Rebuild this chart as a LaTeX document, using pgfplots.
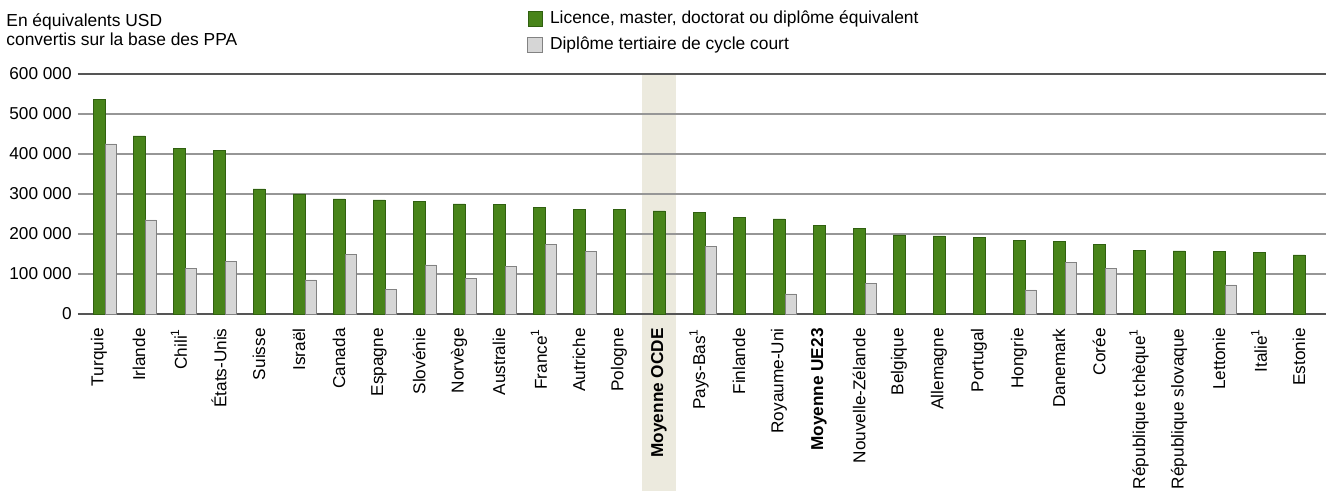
\documentclass[border=0pt]{standalone}
\usepackage{fontspec}
\setmainfont{Liberation Sans}
\usepackage{pgfplots}
\pgfplotsset{compat=1.18}

\definecolor{bargreen}{RGB}{72,132,26}
\definecolor{bargreenedge}{RGB}{48,96,16}
\definecolor{bargray}{RGB}{214,214,214}
\definecolor{bargrayedge}{RGB}{130,130,130}
\definecolor{bandcol}{RGB}{236,234,222}
\definecolor{gridcol}{RGB}{150,150,150}
\definecolor{axiscol}{RGB}{85,85,85}

\newcommand{\lbl}{\fontsize{8.6}{10}\selectfont}

\begin{document}
\begin{tikzpicture}
\begin{axis}[
  set layers,
  at={(0,0)}, anchor=south west,
  width=624pt, height=120pt, scale only axis,
  clip=false,
  ybar,
  xmin=-0.525, xmax=30.675,
  ymin=0, ymax=600000,
  ytick={0,100000,200000,300000,400000,500000,600000},
  yticklabels={0,100 000,200 000,300 000,400 000,500 000,600 000},
  scaled y ticks=false,
  xtick={0,...,30},
  xticklabels={Turquie,Irlande,Chili\textsuperscript{1},États-Unis,Suisse,Israël,Canada,Espagne,Slovénie,Norvège,Australie,France\textsuperscript{1},Autriche,Pologne,\textbf{Moyenne OCDE},Pays-Bas\textsuperscript{1},Finlande,Royaume-Uni,\textbf{Moyenne UE23},Nouvelle-Zélande,Belgique,Allemagne,Portugal,Hongrie,Danemark,Corée,République tchèque\textsuperscript{1},République slovaque,Lettonie,Italie\textsuperscript{1},Estonie},
  major tick length=0pt,
  xticklabel style={rotate=90, anchor=east, inner sep=0pt, font=\lbl},
  xticklabel shift=7pt,
  yticklabel style={anchor=east, inner sep=0pt, font=\lbl},
  yticklabel shift=3pt,
  ymajorgrids,
  grid style={color=gridcol, line width=0.75pt},
  separate axis lines,
  x axis line style={color=axiscol, line width=0.9pt},
  y axis line style={draw=none},
  legend cell align=left,
  legend style={at={(0.3598,1.265)}, anchor=north west, draw=none, fill=none,
    font=\fontsize{8.7}{10}\selectfont, inner sep=0pt, row sep=4.6pt, column sep=3.5pt,
    nodes={inner sep=0pt, text height=6.6pt, text depth=1.8pt}},
  legend image code/.code={\draw[#1] (0pt,-3.7pt) rectangle (7.4pt,3.7pt);},
]
% highlighted column for the OECD average
\addplot[sharp plot, forget plot, fill=bandcol, draw=none, on layer=axis background]
  coordinates {(13.57,-442500) (14.43,-442500) (14.43,600000) (13.57,600000)} -- cycle;

\addplot[fill=bargreen, draw=bargreenedge, line width=0.3pt, bar width=6pt, bar shift=0pt] coordinates {
(0,537000) (1,445000) (2,413000) (3,408000) (4,312500) (5,300000) (6,287500) (7,285000)
(8,282000) (9,275000) (10,274000) (11,266500) (12,261500) (13,261500) (14,257500)
(15,254000) (16,241500) (17,237500) (18,221500) (19,213000) (20,197500) (21,195000)
(22,191000) (23,183000) (24,181500) (25,174000) (26,158000) (27,157500) (28,156000)
(29,154000) (30,147500)};
\addlegendentry{Licence, master, doctorat ou diplôme équivalent}

\addplot[fill=bargray, draw=bargrayedge, line width=0.4pt, bar width=5.5pt, bar shift=5.75pt] coordinates {
(0,425000) (1,235000) (2,113000) (3,131000) (5,85000) (6,149000) (7,62000) (8,122500)
(9,89000) (10,118000) (11,174000) (12,156000) (15,168000) (17,50000) (19,77000)
(23,60000) (24,129000) (25,113000) (28,72500)};
\addlegendentry{Diplôme tertiaire de cycle court}

\node[anchor=north west, align=left, inner sep=0pt, font=\fontsize{8.7}{9.5}\selectfont]
  at (axis description cs:-0.0577,1.254) {En équivalents USD\\convertis sur la base des PPA};
\end{axis}
\pgfresetboundingbox
\path[use as bounding box] (-39pt,-88.5pt) rectangle (624pt,157pt);
\end{tikzpicture}
\end{document}
